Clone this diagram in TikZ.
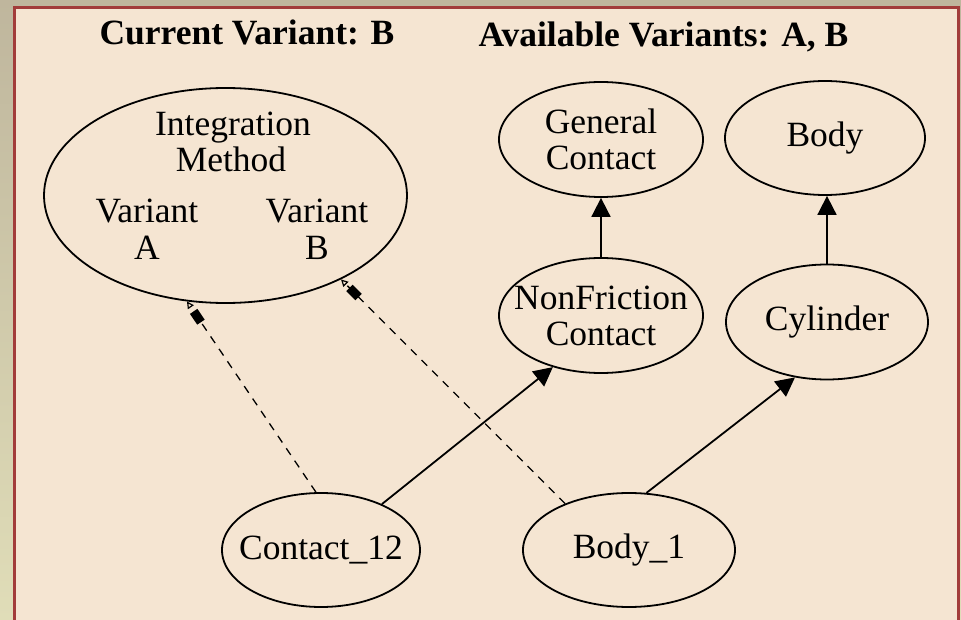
\documentclass[tikz,border=0pt]{standalone}
\usepackage{fontspec}
\setmainfont{Liberation Serif}
\usetikzlibrary{arrows.meta,shapes.geometric}
\definecolor{panel}{HTML}{F5E5D2}
\definecolor{frame}{HTML}{A23C3A}
\definecolor{outertop}{HTML}{BFB69D}
\definecolor{outerbot}{HTML}{E0DDB8}
\begin{document}
\begin{tikzpicture}[x=1pt,y=-1pt,
  every node/.style={font=\fontsize{35.5}{36}\selectfont},
  ell/.style={ellipse,draw,line width=1.8pt,inner sep=0pt},
  txt/.style={align=center,inner sep=0pt},
  ttl/.style={inner sep=0pt,anchor=base,font=\fontsize{35.5}{36}\selectfont\bfseries},
  lbl/.style={inner sep=0pt,anchor=base},
  solidarrow/.style={line width=1.8pt,-{Triangle[length=19pt,width=19pt]}},
  dasharrow/.style={line width=1.3pt,dash pattern=on 8pt off 7pt,
    -{Rectangle[length=13pt,width=9pt,sep=5pt]Triangle[open,length=7pt,width=7pt,line width=1.2pt]}}]
\useasboundingbox (0,0) rectangle (961,620);
\clip (0,0) rectangle (961,620);
\shade[top color=outertop,bottom color=outerbot] (0,0) rectangle (961,620);
\draw[frame,line width=2.6pt,fill=panel] (14.5,7.5) rectangle (958.5,640);

% titles
\node[ttl] (cur) at (247,45) {Current Variant: B};
\node[ttl] (avail) at (663.5,47) {Available Variants: A, B};

% integration method
\node[ell,minimum width=363pt,minimum height=215pt] (im) at (225.5,195.5) {};
\node[lbl] (im1) at (233,136) {Integration};
\node[lbl] (im2) at (231,172) {Method};
\node[lbl] (va1) at (147,223) {Variant};
\node[lbl] (va2) at (147,260) {A};
\node[lbl] (vb1) at (317,223) {Variant};
\node[lbl] (vb2) at (317,260) {B};

% class nodes
\node[ell,minimum width=204pt,minimum height=115pt] (gc) at (601,139.5) {};
\node[txt] (gct) at (gc.center) {General\\Contact};
\node[ell,minimum width=200pt,minimum height=114pt] (body) at (825,138) {};
\node[txt] (bodyt) at (body.center) {Body};
\node[ell,minimum width=204pt,minimum height=115pt] (nf) at (601,315.5) {};
\node[txt] (nft) at (nf.center) {NonFriction\\Contact};
\node[ell,minimum width=202pt,minimum height=115pt] (cyl) at (827,322) {};
\node[txt] (cylt) at (cyl.center) {Cylinder};

% instances
\node[ell,minimum width=198pt,minimum height=114pt] (c12) at (321,550) {};
\node[txt] (c12t) at (c12.center) {Contact\_12};
\node[ell,minimum width=212pt,minimum height=114pt] (b1) at (629,550) {};
\node[txt] (b1t) at (b1.center) {Body\_1};

% connectors
\draw[solidarrow] (nf.north) -- (gc.south);
\draw[solidarrow] (cyl.north) -- (cyl.north |- body.south);
\draw[solidarrow] (c12.37) -- (nf.227);
\draw[solidarrow] (b1.73) -- (cyl.240);
\draw[dasharrow] (c12.95) -- (im.250);
\draw[dasharrow] (b1.144) -- (im.324);
\end{tikzpicture}
\end{document}
